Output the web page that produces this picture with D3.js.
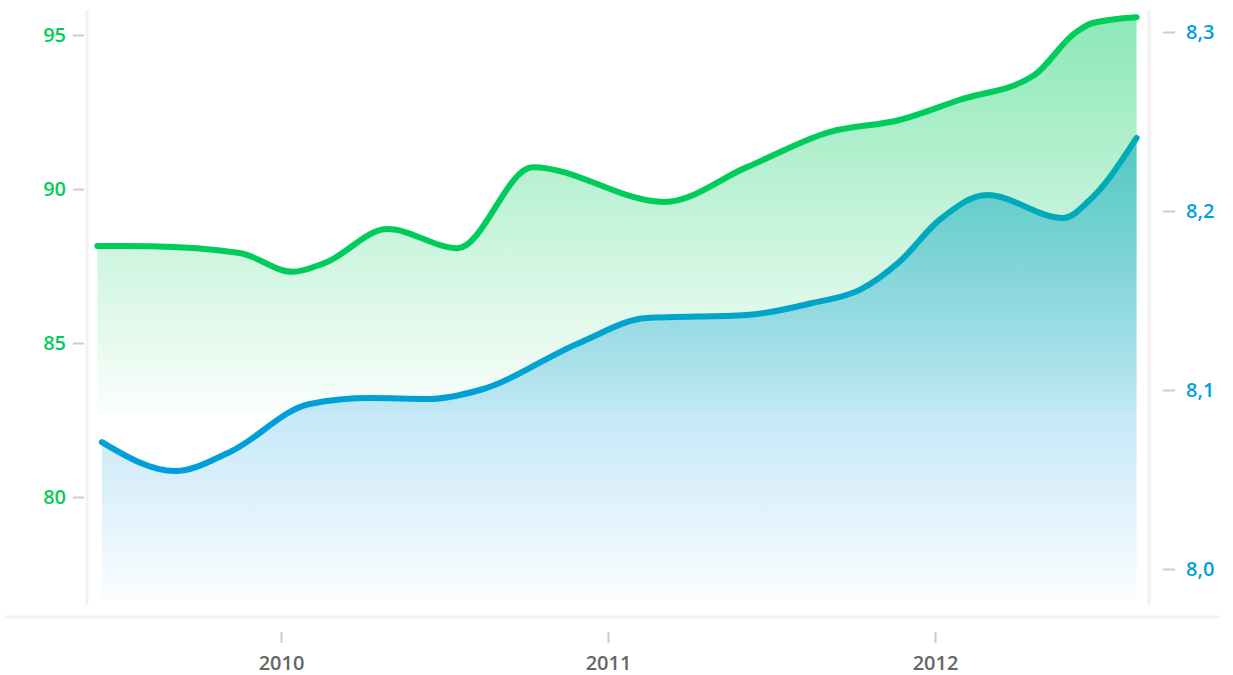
<!DOCTYPE html>
<html>
<head>
<meta charset="utf-8">
<script src="https://cdnjs.cloudflare.com/ajax/libs/d3/7.8.5/d3.min.js"></script>
<style>
  body { margin: 0; background: #fff; }
  svg text { font-family: "Open Sans", sans-serif; font-weight: 600; font-size: 20px; }
</style>
</head>
<body>
<svg id="chart"></svg>
<script>
// green series, left axis
var greenDates  = ['2009-06-10', '2009-08-08', '2009-11-16', '2010-01-14', '2010-02-19', '2010-04-30',
                   '2010-07-17', '2010-10-09', '2011-03-05', '2011-06-05', '2011-09-05', '2011-11-22',
                   '2012-01-28', '2012-04-21', '2012-06-05', '2012-06-25', '2012-08-13'];
var greenValues = [88.15, 88.14, 87.92, 87.31, 87.6, 88.7,
                   88.08, 90.71, 89.58, 90.71, 91.85, 92.24,
                   92.89, 93.7, 95.06, 95.39, 95.58];

// blue series, right axis
var blueDates  = ['2009-06-15', '2009-09-05', '2009-11-05', '2010-02-02', '2010-04-10', '2010-06-16',
                  '2010-08-11', '2010-11-30', '2011-02-13', '2011-06-05', '2011-08-17', '2011-10-09',
                  '2011-11-22', '2012-01-06', '2012-02-28', '2012-05-23', '2012-06-25', '2012-08-13'];
var blueValues = [8.0709, 8.0547, 8.0654, 8.0922, 8.0955, 8.095,
                  8.1, 8.1263, 8.1402, 8.1419, 8.1486, 8.1559,
                  8.1715, 8.195, 8.2089, 8.1961, 8.2078, 8.2408];

var leftTicks  = [80, 85, 90, 95];
var rightTicks = [8.0, 8.1, 8.2, 8.3];
var yearTicks  = ['2010', '2011', '2012'];

// where the two filled areas stop at the bottom
var greenFloor = 82.8;
var blueFloor  = 7.983;

function drawChart(){
  var width  = 1233;
  var height = 675;
  var green = '#00cc5c';
  var blue  = '#009fda';

  var parse = d3.timeParse('%Y-%m-%d');
  var parseYear = d3.timeParse('%Y');

  var green_data = greenDates.map(function(d, i){ return {date: parse(d), value: greenValues[i]}; });
  var blue_data  = blueDates.map(function(d, i){ return {date: parse(d), value: blueValues[i]}; });

  var svg = d3.select('#chart')
              .attr('width', width)
              .attr('height', height);

  var xScale = d3.scaleTime()
                 .domain([parseYear('2010'), parseYear('2012')])
                 .range([281, 935]);

  var yLeft = d3.scaleLinear()
                .domain([80, 95])
                .range([497, 35]);

  var yRight = d3.scaleLinear()
                 .domain([8.0, 8.3])
                 .range([569, 32]);

  var defs = svg.append('defs');

  var gGreen = defs.append('linearGradient')
                   .attr('id', 'greenFill')
                   .attr('x1', 0).attr('y1', 0).attr('x2', 0).attr('y2', 1);
  gGreen.append('stop').attr('offset', '0%').attr('stop-color', green).attr('stop-opacity', 0.45);
  gGreen.append('stop').attr('offset', '100%').attr('stop-color', green).attr('stop-opacity', 0.02);

  var gBlue = defs.append('linearGradient')
                  .attr('id', 'blueFill')
                  .attr('x1', 0).attr('y1', 0).attr('x2', 0).attr('y2', 1);
  gBlue.append('stop').attr('offset', '0%').attr('stop-color', '#0a9be0').attr('stop-opacity', 0.55);
  gBlue.append('stop').attr('offset', '100%').attr('stop-color', '#0a9be0').attr('stop-opacity', 0.02);

  // frame lines
  var frame = svg.append('g')
                 .attr('stroke', '#f2f2f2')
                 .attr('stroke-width', 3);
  frame.append('line').attr('x1', 87).attr('x2', 87).attr('y1', 10).attr('y2', 605);
  frame.append('line').attr('x1', 1149).attr('x2', 1149).attr('y1', 10).attr('y2', 605);
  frame.append('line').attr('x1', 5).attr('x2', 1220).attr('y1', 617).attr('y2', 617);

  // blue area + line first, green drawn on top of it
  svg.append('path')
     .datum(blue_data)
     .attr('fill', 'url(#blueFill)')
     .attr('d', d3.area()
                  .curve(d3.curveMonotoneX)
                  .x(function(d){ return xScale(d.date); })
                  .y0(yRight(blueFloor))
                  .y1(function(d){ return yRight(d.value); }));

  svg.append('path')
     .datum(blue_data)
     .attr('fill', 'none')
     .attr('stroke', blue)
     .attr('stroke-width', 6)
     .attr('stroke-linecap', 'round')
     .attr('d', d3.line()
                  .curve(d3.curveMonotoneX)
                  .x(function(d){ return xScale(d.date); })
                  .y(function(d){ return yRight(d.value); }));

  svg.append('path')
     .datum(green_data)
     .attr('fill', 'url(#greenFill)')
     .attr('d', d3.area()
                  .curve(d3.curveMonotoneX)
                  .x(function(d){ return xScale(d.date); })
                  .y0(yLeft(greenFloor))
                  .y1(function(d){ return yLeft(d.value); }));

  svg.append('path')
     .datum(green_data)
     .attr('fill', 'none')
     .attr('stroke', green)
     .attr('stroke-width', 6)
     .attr('stroke-linecap', 'round')
     .attr('d', d3.line()
                  .curve(d3.curveMonotoneX)
                  .x(function(d){ return xScale(d.date); })
                  .y(function(d){ return yLeft(d.value); }));

  // axes
  var comma = d3.formatLocale({decimal: ',', thousands: '.', grouping: [3], currency: ['', '']});

  var left_axis = svg.append('g')
                     .attr('transform', 'translate(84,0)')
                     .call(d3.axisLeft(yLeft).tickValues(leftTicks).tickSize(11).tickPadding(7));

  var right_axis = svg.append('g')
                      .attr('transform', 'translate(1163,0)')
                      .call(d3.axisRight(yRight).tickValues(rightTicks).tickSize(12).tickPadding(11)
                              .tickFormat(comma.format('.1f')));

  var x_axis = svg.append('g')
                  .attr('transform', 'translate(0,632)')
                  .call(d3.axisBottom(xScale)
                          .tickValues(yearTicks.map(function(y){ return parseYear(y); }))
                          .tickSize(11).tickPadding(13)
                          .tickFormat(d3.timeFormat('%Y')));

  [left_axis, right_axis, x_axis].forEach(function(a){
    a.select('.domain').remove();
    a.selectAll('.tick line').attr('stroke', '#cccccc').attr('stroke-width', 2);
    a.selectAll('text').attr('font-size', null).attr('font-family', null);
  });
  left_axis.selectAll('text').attr('fill', green);
  right_axis.selectAll('text').attr('fill', blue);
  x_axis.selectAll('text').attr('fill', '#666666');
}

drawChart();
</script>
</body>
</html>
